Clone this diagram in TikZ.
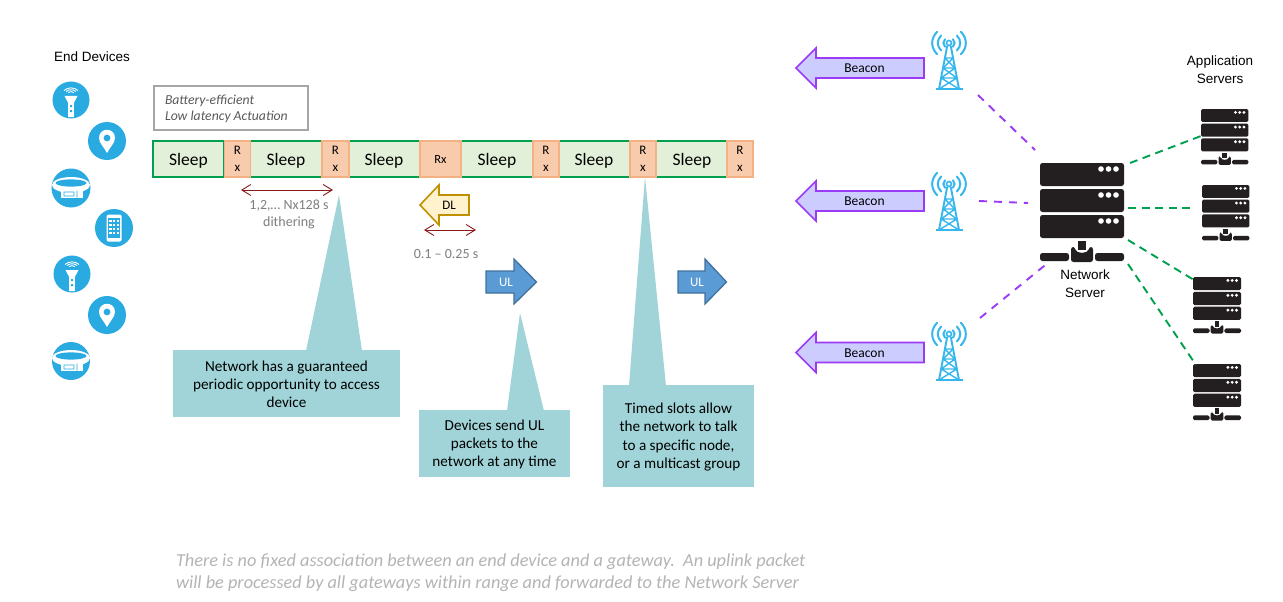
\documentclass[tikz,border=0pt]{standalone}
\usepackage{fontspec}
\setmainfont{Carlito}
\newfontfamily\arialf{Liberation Sans}
\usetikzlibrary{arrows.meta,calc}
\newcommand{\topnudge}{\rule{0pt}{12.5pt}}
\definecolor{devblue}{HTML}{29ABE2}
\definecolor{towerblue}{HTML}{35B6EC}
\definecolor{sleepfill}{HTML}{E2F0D9}
\definecolor{sleepline}{HTML}{00A050}
\definecolor{rxfill}{HTML}{F8CBAD}
\definecolor{rxline}{HTML}{F4B183}
\definecolor{tealc}{HTML}{A0D4D8}
\definecolor{darkred}{HTML}{8B1A1A}
\definecolor{purp}{HTML}{9B3BF5}
\definecolor{purpfill}{HTML}{CCCCFF}
\definecolor{srvblack}{HTML}{231F20}
\definecolor{ulfill}{HTML}{5B9BD5}
\definecolor{ulline}{HTML}{41719C}
\definecolor{dlfill}{HTML}{FFF2CC}
\definecolor{dlline}{HTML}{BF9000}
\definecolor{graytxt}{HTML}{7F7F7F}
\definecolor{notetxt}{HTML}{B4B4B4}
\tikzset{
  x=1pt,y=-1pt,
  every node/.style={inner sep=0pt,outer sep=0pt},
  sleepbox/.style={draw=sleepline,fill=sleepfill,line width=1.6pt,minimum height=36pt,text height=12.5pt,text depth=.5pt,font=\fontsize{17.5}{20}\selectfont},
  rxbox/.style={draw=rxline,fill=rxfill,line width=1.6pt,minimum height=36pt,align=center,font=\fontsize{13}{17}\selectfont},
  device/.style={circle,fill=devblue,draw=none},
  lbl/.style={align=center,font=\arialf\fontsize{13.5}{18}\selectfont},
  calltxt/.style={fill=tealc,align=center,font=\fontsize{15.2}{18.2}\selectfont},
  calltail/.style={fill=tealc,draw=none},
  graylbl/.style={align=center,text=graytxt,font=\fontsize{14}{17}\selectfont},
  redarrow/.style={draw=darkred,line width=.9pt,{Straight Barb[length=9pt,width=11pt,line width=.9pt]}-{Straight Barb[length=9pt,width=11pt,line width=.9pt]}},
  beaconarrow/.style={draw=purp,fill=purpfill,line width=1.6pt,miter limit=10},
  ularrow/.style={draw=ulline,fill=ulfill,line width=1.3pt},
  dlarrow/.style={draw=dlline,fill=dlfill,line width=1.6pt},
  purpledash/.style={draw=purp,line width=1.9pt,dash pattern=on 8pt off 7pt},
  greendash/.style={draw=sleepline,line width=1.9pt,dash pattern=on 8pt off 5.5pt},
  pics/server/.style={code={
    \foreach \t in {0,26,52}{
      \fill[srvblack,rounded corners=#1] (0,\t) rectangle (84,\t+23);
      \foreach \dx in {61,68.5,76}{\fill[white] (\dx,\t+6) circle[radius=2.8];}
    }
    \fill[srvblack,rounded corners=#1] (0,90) rectangle (29,98);
    \fill[srvblack,rounded corners=#1] (55,90) rectangle (84,98);
    \fill[srvblack,rounded corners=#1] (31,84) -- (35,84) .. controls (36,91) and (48,91) .. (49,84) -- (53,84) -- (53,99) -- (31,99) -- cycle;
    \fill[srvblack] (38,77.5) rectangle (46,87);
  }},
  pics/tower/.style={code={
    \foreach \r in {5.5,11,16.5}{
      \draw[towerblue,line width=2pt,line cap=round] ({-\r*.72},{-\r*.68}) .. controls ({-\r*1.12},{-\r*.27}) and ({-\r*1.12},{\r*.27}) .. ({-\r*.72},{\r*.68});
      \draw[towerblue,line width=2pt,line cap=round] ({\r*.72},{-\r*.68}) .. controls ({\r*1.12},{-\r*.27}) and ({\r*1.12},{\r*.27}) .. ({\r*.72},{\r*.68});
    }
    \draw[towerblue,line width=1.6pt] (0,0) circle[radius=2.5];
    \draw[towerblue,line width=1.9pt] (-1.8,3) -- (-10,46) (1.8,3) -- (10,46);
    \draw[towerblue,line width=1.4pt] (-4.2,15) -- (4.2,15) (-6,25) -- (6,25) (-7.8,35) -- (7.8,35)
      (-4.2,15) -- (6,25) (4.2,15) -- (-6,25) (-6,25) -- (7.8,35) (6,25) -- (-7.8,35) (-7.8,35) -- (10,46) (7.8,35) -- (-10,46);
    \draw[towerblue,line width=2.2pt] (-13.5,46) -- (13.5,46);
  }},
  pics/wand/.style={code={
    \foreach \r in {4,7,10}{
      \draw[white,line width=.9pt] ({-\r*.7},{-6-\r*.35}) .. controls ({-\r*.3},{-6-\r*.7}) and ({\r*.3},{-6-\r*.7}) .. ({\r*.7},{-6-\r*.35});
    }
    \fill[white] (-6.5,-4) -- (6.5,-4) -- (2.8,3) -- (2.8,17) -- (-2.8,17) -- (-2.8,3) -- cycle;
    \fill[devblue] (-1,5) rectangle (1,7) (-1,10) rectangle (1,12);
  }},
  pics/pin/.style={code={
    \fill[white] (0,12) .. controls (-3,6) and (-8,2) .. (-8,-3) .. controls (-8,-14) and (8,-14) .. (8,-3) .. controls (8,2) and (3,6) .. (0,12) -- cycle;
    \fill[devblue] (0,-3) circle[radius=3.4];
  }},
  pics/band/.style={code={
    \fill[white] (0,-3) ellipse[x radius=19,y radius=8];
    \fill[devblue] (0,-5) ellipse[x radius=15.5,y radius=3.6];
    \fill[white] (-10,2) rectangle (12,10);
    \draw[devblue,line width=.8pt] (-7,4) rectangle (3,8) (6,2.5) -- (6,9.5) (-16,3) -- (-10,6) (12,6) -- (17,2);
  }},
  pics/phone/.style={code={
    \fill[white,rounded corners=1.5pt] (-7.5,-13.5) rectangle (7.5,13.5);
    \fill[devblue] (-6,-10) rectangle (6,9.5);
    \foreach \a in {-3.8,0,3.8}{\foreach \b in {-7,-3,1,5}{
      \fill[white] (\a-1.3,\b-1.3) rectangle (\a+1.3,\b+1.3);}}
  }}
}
\begin{document}
\begin{tikzpicture}
\useasboundingbox[fill=white] (0,0) rectangle (1283,602);

% End devices
\node[lbl] (edlabel) at (92,57) {End Devices};
\node[device,minimum size=37pt] (d1) at (71,100) {};
\node[device,minimum size=38pt] (d2) at (107,141) {};
\node[device,minimum size=39pt] (d3) at (71,188) {};
\node[device,minimum size=38pt] (d4) at (114,228) {};
\node[device,minimum size=37pt] (d5) at (72,274) {};
\node[device,minimum size=38pt] (d6) at (107,315) {};
\node[device,minimum size=38pt] (d7) at (71,361) {};
\pic at (d1) {wand};
\pic at (d2) {pin};
\pic at (d3) {band};
\pic at (d4) {phone};
\pic at (d5) {wand};
\pic at (d6) {pin};
\pic at (d7) {band};

% Battery label
\node[draw=black!35,line width=1.6pt,minimum width=154pt,minimum height=44pt] (batt) at (231,108) {};
\node[anchor=west,align=left,text=black!65,font=\itshape\fontsize{13.7}{16}\selectfont] (batttxt) at (165,108.7) {Battery-efficient\\Low latency Actuation};

% Timeline
\node[sleepbox,minimum width=71pt] (s1) at (188.5,159) {Sleep};
\node[sleepbox,minimum width=71pt] (s2) at (286,159) {Sleep};
\node[sleepbox,minimum width=71pt] (s3) at (384,159) {Sleep};
\node[sleepbox,minimum width=72pt] (s4) at (497,159) {Sleep};
\node[sleepbox,minimum width=71pt] (s5) at (594,159) {Sleep};
\node[sleepbox,minimum width=71pt] (s6) at (692,159) {Sleep};
\node[rxbox,minimum width=26pt] (r1) at (237.5,159) {R\\x};
\node[rxbox,minimum width=27pt] (r2) at (335.5,159) {R\\x};
\node[rxbox,minimum width=41pt,font=\fontsize{12.5}{15}\selectfont] (r3) at (440.5,159) {Rx};
\node[rxbox,minimum width=26pt] (r4) at (546,159) {R\\x};
\node[rxbox,minimum width=26pt] (r5) at (643,159) {R\\x};
\node[rxbox,minimum width=26pt] (r6) at (740,159) {R\\x};

% Red spans
\coordinate (sp1a) at (241,190);
\coordinate (sp1b) at (333,190);
\coordinate (sp2a) at (424,230);
\coordinate (sp2b) at (476,230);
\draw[redarrow] (sp1a) -- (sp1b);
\draw[redarrow] (sp2a) -- (sp2b);
\node[graylbl] (dith) at (289,214) {1,2,… Nx128 s\\dithering};
\node[graylbl] (range) at (446,254) {0.1 – 0.25 s};

% Callouts
\fill[calltail] (339,195) -- (306,351) -- (362,351) -- cycle;
\fill[calltail] (520,313) -- (507,411) -- (544,411) -- cycle;
\fill[calltail] (645,177) -- (629,386) -- (666,386) -- cycle;
\node[calltxt,minimum width=227pt,minimum height=67pt] (c1) at (286.5,383.5) {\topnudge Network has a guaranteed\\periodic opportunity to access\\device};
\node[calltxt,minimum width=151pt,minimum height=67pt] (c2) at (494.5,443.5) {\topnudge Devices send UL\\packets to the\\network at any time};
\node[calltxt,minimum width=151pt,minimum height=102pt] (c3) at (678.5,436) {\topnudge Timed slots allow\\the network to talk\\to a specific node,\\or a multicast group};

% DL and UL arrows
\draw[dlarrow] (420,205) -- (439,185) -- (439,195) -- (469,195) -- (469,215) -- (439,215) -- (439,225) -- cycle;
\node[font=\fontsize{13}{15}\selectfont] (dl) at (449,205) {DL};
\draw[ularrow] (486,271) -- (514,271) -- (514,259) -- (536.5,282) -- (514,304) -- (514,293) -- (486,293) -- cycle;
\node[text=white,font=\fontsize{13}{15}\selectfont] (ul1) at (506,282) {UL};
\draw[ularrow] (678,271) -- (705,271) -- (705,259) -- (726.5,282) -- (705,304) -- (705,293) -- (678,293) -- cycle;
\node[text=white,font=\fontsize{13}{15}\selectfont] (ul2) at (697,282) {UL};

% Beacons
\foreach \cy/\nm in {68/b1,201/b2,352.5/b3}{
  \draw[beaconarrow] (796,\cy) -- (816,\cy-20) -- (816,\cy-10) -- (924,\cy-10) -- (924,\cy+10) -- (816,\cy+10) -- (816,\cy+20) -- cycle;
  \node[font=\fontsize{13.5}{15}\selectfont] (\nm) at (864.5,\cy+.5) {Beacon};
}

% Gateways
\node[minimum width=34pt,minimum height=60pt] (g1) at (949,60) {};
\node[minimum width=34pt,minimum height=60pt] (g2) at (949,201) {};
\node[minimum width=34pt,minimum height=60pt] (g3) at (949,351) {};
\pic at (949,43) {tower};
\pic at (949,184) {tower};
\pic at (949,334) {tower};

% Servers
\node[minimum width=84pt,minimum height=98pt] (ns) at (1082,212) {};
\pic at (1040,163) {server=2.5pt};
\node[minimum width=47pt,minimum height=56pt] (a1) at (1224.5,137) {};
\node[minimum width=47pt,minimum height=56pt] (a2) at (1225.5,213) {};
\node[minimum width=48pt,minimum height=56pt] (a3) at (1217,305) {};
\node[minimum width=48pt,minimum height=56pt] (a4) at (1217,392) {};
\pic[scale=.565] at (1201,109) {server=1.5pt};
\pic[scale=.565] at (1202,185) {server=1.5pt};
\pic[scale=.572] at (1193,277) {server=1.5pt};
\pic[scale=.572] at (1193,364) {server=1.5pt};
\node[lbl] (nslabel) at (1085,284) {Network\\Server};
\node[lbl] (aslabel) at (1220,70) {Application\\Servers};

% Connector ends
\coordinate (g1e) at (978,95);
\coordinate (g2e) at (979,201);
\coordinate (g3e) at (980,318);
\coordinate (nsg1) at (1035,150);
\coordinate (nsg2) at (1028,203);
\coordinate (nsg3) at (1049,262);
\coordinate (nsa1) at (1130,163);
\coordinate (nsa2) at (1128,208);
\coordinate (nsa3) at (1128,240);
\coordinate (nsa4) at (1128,264);
\coordinate (a1e) at (1201,136);
\coordinate (a2e) at (1195,208);
\coordinate (a3e) at (1194,280);
\coordinate (a4e) at (1196,365);
\draw[purpledash] (g1e) -- (nsg1);
\draw[purpledash] (g2e) -- (nsg2);
\draw[purpledash] (g3e) -- (nsg3);
\draw[greendash] (nsa1) -- (a1e);
\draw[greendash] (nsa2) -- (a2e);
\draw[greendash] (nsa3) -- (a3e);
\draw[greendash] (nsa4) -- (a4e);

% Note
\node[anchor=west,align=left,text=notetxt,font=\itshape\fontsize{18.3}{22}\selectfont] (note) at (176,572.5) {There is no fixed association between an end device and a gateway.\ \ An uplink packet\\will be processed by all gateways within range and forwarded to the Network Server};
\end{tikzpicture}
\end{document}
